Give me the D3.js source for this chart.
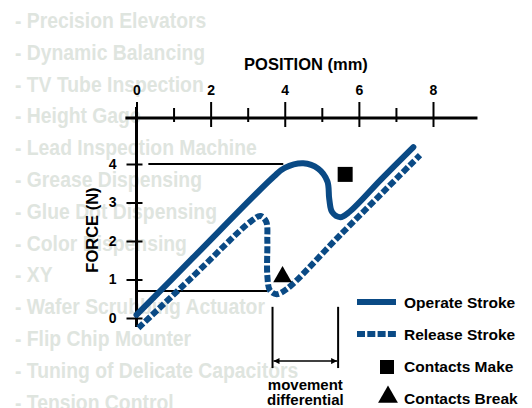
<!DOCTYPE html>
<html lang="en">
<head>
<meta charset="UTF-8">
<title>Operate and Release Stroke</title>
<script src="https://d3js.org/d3.v7.min.js"></script>
<style>
  body { margin: 0; background: #fff; }
  svg { display: block; }
  .bg-item { font-family: "Liberation Sans", Arial, sans-serif; font-weight: bold; font-size: 21.5px; fill: #dfe5df; }
  .lbl { font-family: "Liberation Sans", Arial, sans-serif; font-weight: bold; fill: #000; }
</style>
</head>
<body>
<svg width="532" height="408"></svg>
<script>
// background list of applications
var bgItems = ["- Precision Elevators", "- Dynamic Balancing", "- TV Tube Inspection", "- Height Gage",
  "- Lead Inspection Machine", "- Grease Dispensing", "- Glue Dot Dispensing", "- Color Dispensing", "- XY",
  "- Wafer Scrubbing Actuator", "- Flip Chip Mounter", "- Tuning of Delicate Capacitors", "- Tension Control"];

// axis ticks
var xTicks = [0, 1, 2, 3, 4, 5, 6, 7, 8];
var yTicks = [0, 1, 2, 3, 4];

// operate stroke (position mm, force N)
var operate = [[0, 0.08], [1.5, 1.54], [3.7, 3.67], [4.0, 3.9], [4.5, 4.02], [4.9, 3.88], [5.15, 3.55],
  [5.2, 3.1], [5.28, 2.75], [5.5, 2.62], [5.75, 2.76], [6.6, 3.6], [7.47, 4.44]];

// release stroke
var release = [[0.05, -0.26], [1.5, 1.06], [3.1, 2.52], [3.35, 2.65], [3.5, 2.5], [3.53, 2.0], [3.53, 1.1],
  [3.6, 0.72], [3.78, 0.62], [4.05, 0.75], [5.5, 2.16], [7.65, 4.23]];

// contact points
var contactMake = [5.63, 3.73];
var contactBreak = [3.94, 1.07];

// reference lines
var makeForce = 4, breakForce = 0.7;
var diffStart = 3.67, diffEnd = 5.44;

var legendLabels = ["Operate Stroke", "Release Stroke", "Contacts Make", "Contacts Break"];

var blue = "#0a4a85";
var svg = d3.select("svg");

// faded list behind the chart (squeezed to look condensed)
svg.append("g")
  .attr("transform", "translate(15,0) scale(0.9,1)")
  .selectAll("text")
  .data(bgItems)
  .enter().append("text")
  .attr("class", "bg-item")
  .attr("x", 0)
  .attr("y", function(d, i) { return 28 + i * 31.8; })
  .text(function(d) { return d; });

var xScale = d3.scaleLinear().domain([0, 8]).range([136.5, 433]);
var yScale = d3.scaleLinear().domain([0, 4]).range([318, 164]);

var axisY = 118; // x axis sits above the plot
var g = svg.append("g");

// x axis line
g.append("line")
  .attr("x1", xScale(-0.3)).attr("x2", xScale(9.2))
  .attr("y1", axisY).attr("y2", axisY)
  .attr("stroke", "#000").attr("stroke-width", 3);

var xAxis = d3.axisTop(xScale).tickValues(xTicks).tickSize(0).tickPadding(23)
  .tickFormat(function(d) { return d % 2 === 0 ? d : ""; });
var xg = g.append("g").attr("transform", "translate(0," + axisY + ")").call(xAxis);
xg.select(".domain").remove();
xg.selectAll(".tick line")
  .attr("y1", function(d) { return d % 2 === 0 ? 9 : 4; })
  .attr("y2", function(d) { return d % 2 === 0 ? -16 : -10; })
  .attr("stroke", "#000").attr("stroke-width", 2);
xg.selectAll(".tick text").attr("class", "lbl").style("font-size", "14px").attr("fill", "#000");

// y axis line
g.append("line")
  .attr("x1", xScale(0)).attr("x2", xScale(0))
  .attr("y1", 107).attr("y2", 327)
  .attr("stroke", "#000").attr("stroke-width", 3);

var yAxis = d3.axisLeft(yScale).tickValues(yTicks).tickSize(0).tickPadding(20).tickFormat(d3.format("d"));
var yg = g.append("g").attr("transform", "translate(" + xScale(0) + ",0)").call(yAxis);
yg.select(".domain").remove();
yg.selectAll(".tick line").attr("x1", -10).attr("x2", 6).attr("stroke", "#000").attr("stroke-width", 2);
yg.selectAll(".tick text").attr("class", "lbl").style("font-size", "14px").attr("fill", "#000");

// axis titles
g.append("text").attr("class", "lbl")
  .attr("x", 306).attr("y", 70).attr("text-anchor", "middle")
  .style("font-size", "16.5px").text("POSITION (mm)");
g.append("text").attr("class", "lbl")
  .attr("transform", "translate(98,230) rotate(-90)")
  .attr("text-anchor", "middle")
  .style("font-size", "16.5px").text("FORCE (N)");

// reference lines
g.append("line")
  .attr("x1", xScale(0.32)).attr("x2", xScale(3.96))
  .attr("y1", yScale(makeForce)).attr("y2", yScale(makeForce))
  .attr("stroke", "#000").attr("stroke-width", 2);
g.append("line")
  .attr("x1", xScale(0)).attr("x2", xScale(3.53))
  .attr("y1", yScale(breakForce)).attr("y2", yScale(breakForce))
  .attr("stroke", "#000").attr("stroke-width", 2);

// movement differential
[diffStart, diffEnd].forEach(function(v) {
  g.append("line")
    .attr("x1", xScale(v)).attr("x2", xScale(v))
    .attr("y1", yScale(0.29)).attr("y2", yScale(-1.3))
    .attr("stroke", "#000").attr("stroke-width", 2);
});
var defs = svg.append("defs");
defs.append("marker").attr("id", "arr")
  .attr("viewBox", "0 0 10 10").attr("refX", 10).attr("refY", 5)
  .attr("markerWidth", 12).attr("markerHeight", 6).attr("markerUnits", "userSpaceOnUse")
  .attr("orient", "auto-start-reverse")
  .append("path").attr("d", "M0,0L10,5L0,10Z").attr("fill", "#000");
g.append("line")
  .attr("x1", xScale(diffStart) + 1).attr("x2", xScale(diffEnd) - 1)
  .attr("y1", yScale(-1.12)).attr("y2", yScale(-1.12))
  .attr("stroke", "#000").attr("stroke-width", 1.5)
  .attr("marker-start", "url(#arr)").attr("marker-end", "url(#arr)");
var midX = (xScale(diffStart) + xScale(diffEnd)) / 2;
g.append("text").attr("class", "lbl").attr("x", midX).attr("y", 390)
  .attr("text-anchor", "middle").style("font-size", "15px").text("movement");
g.append("text").attr("class", "lbl").attr("x", midX).attr("y", 405)
  .attr("text-anchor", "middle").style("font-size", "15px").text("differential");

// strokes
var line = d3.line()
  .x(function(d) { return xScale(d[0]); })
  .y(function(d) { return yScale(d[1]); })
  .curve(d3.curveCatmullRom.alpha(0.5));

g.append("path").datum(release)
  .attr("d", line).attr("fill", "none")
  .attr("stroke", blue).attr("stroke-width", 6)
  .attr("stroke-dasharray", "7,2.5");
g.append("path").datum(operate)
  .attr("d", line).attr("fill", "none")
  .attr("stroke", blue).attr("stroke-width", 6)
  .attr("stroke-linecap", "round");

// contact markers
var sq = d3.symbol().type(d3.symbolSquare).size(225);
var tri = d3.symbol().type(d3.symbolTriangle).size(150);
g.append("path").attr("d", sq)
  .attr("transform", "translate(" + xScale(contactMake[0]) + "," + yScale(contactMake[1]) + ")");
g.append("path").attr("d", tri)
  .attr("transform", "translate(" + xScale(contactBreak[0]) + "," + yScale(contactBreak[1]) + ")");

// legend
var legend = svg.append("g").attr("transform", "translate(357,302)");
var rowH = 32;
legend.append("line").attr("x1", 0).attr("x2", 39).attr("y1", 0).attr("y2", 0)
  .attr("stroke", blue).attr("stroke-width", 6);
legend.append("line").attr("x1", 0).attr("x2", 39).attr("y1", rowH).attr("y2", rowH)
  .attr("stroke", blue).attr("stroke-width", 6).attr("stroke-dasharray", "8,2.3");
legend.append("path").attr("d", d3.symbol().type(d3.symbolSquare).size(196))
  .attr("transform", "translate(30," + (2 * rowH + 1) + ")");
legend.append("path").attr("d", d3.symbol().type(d3.symbolTriangle).size(170))
  .attr("transform", "translate(31," + (3 * rowH - 1) + ")");
legend.selectAll(".leg")
  .data(legendLabels)
  .enter().append("text")
  .attr("class", "lbl leg")
  .attr("x", 47)
  .attr("y", function(d, i) { return i * rowH + 6; })
  .style("font-size", "15.5px")
  .text(function(d) { return d; });
</script>
</body>
</html>
